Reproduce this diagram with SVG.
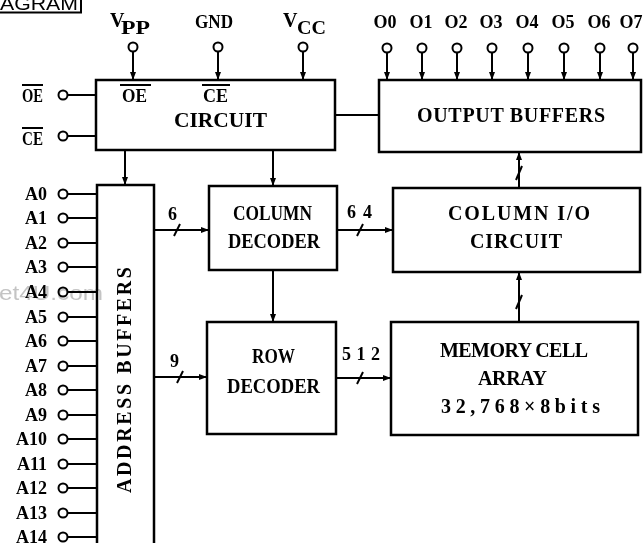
<svg xmlns="http://www.w3.org/2000/svg" width="643" height="543" viewBox="0 0 643 543">
<style>
.box{fill:#fff;stroke:#000;stroke-width:2.5}
.ln{fill:none;stroke:#000;stroke-width:2}
.pin{fill:#fff;stroke:#000;stroke-width:2}
.t{font-family:"Liberation Serif","DejaVu Serif",serif;font-weight:bold;font-size:20px;fill:#000}
.s{font-family:"Liberation Serif","DejaVu Serif",serif;font-weight:bold;font-size:18px;fill:#000}
.a{font-family:"Liberation Serif","DejaVu Serif",serif;font-weight:bold;font-size:18px;fill:#000;text-anchor:end}
</style>
<defs>
<marker id="ah" markerUnits="userSpaceOnUse" markerWidth="8" markerHeight="8" viewBox="0 0 8 8" refX="8" refY="4" orient="auto">
<path d="M0,1 L8,4 L0,7 Z" fill="#000"/>
</marker>
</defs>
<rect width="643" height="543" fill="#fff"/>

<g id="title">
<text x="0" y="10" font-family="Liberation Sans,Arial,sans-serif" font-size="19" textLength="78" lengthAdjust="spacingAndGlyphs">AGRAM</text>
<path class="ln" d="M0,12.5 H81 V0" stroke-width="1.5"/>
</g>

<g id="connectors">
<path class="ln" d="M133,52 V80" marker-end="url(#ah)"/>
<path class="ln" d="M218,52 V80" marker-end="url(#ah)"/>
<path class="ln" d="M303,52 V80" marker-end="url(#ah)"/>
<path class="ln" d="M387,53 V80" marker-end="url(#ah)"/>
<path class="ln" d="M422,53 V80" marker-end="url(#ah)"/>
<path class="ln" d="M457,53 V80" marker-end="url(#ah)"/>
<path class="ln" d="M492,53 V80" marker-end="url(#ah)"/>
<path class="ln" d="M528,53 V80" marker-end="url(#ah)"/>
<path class="ln" d="M564,53 V80" marker-end="url(#ah)"/>
<path class="ln" d="M600,53 V80" marker-end="url(#ah)"/>
<path class="ln" d="M633,53 V80" marker-end="url(#ah)"/>
<path class="ln" d="M68,95 H96"/>
<path class="ln" d="M68,136 H96"/>
<path class="ln" d="M335,115 H379"/>
<path class="ln" d="M125,150 V185" marker-end="url(#ah)"/>
<path class="ln" d="M273,150 V186" marker-end="url(#ah)"/>
<path class="ln" d="M273,270 V322" marker-end="url(#ah)"/>
<path class="ln" d="M154,230 H209" marker-end="url(#ah)"/>
<path class="ln" d="M174,236 L180,224"/>
<path class="ln" d="M154,377 H207" marker-end="url(#ah)"/>
<path class="ln" d="M177,383 L183,371"/>
<path class="ln" d="M337,230 H393" marker-end="url(#ah)"/>
<path class="ln" d="M357,236 L363,224"/>
<path class="ln" d="M336,378 H391" marker-end="url(#ah)"/>
<path class="ln" d="M357,384 L363,372"/>
<path class="ln" d="M519,188 V152" marker-end="url(#ah)"/>
<path class="ln" d="M516,180 L522,166"/>
<path class="ln" d="M519,322 V272" marker-end="url(#ah)"/>
<path class="ln" d="M516,309 L522,295"/>
<path class="ln" d="M68,194 H97 M68,218 H97 M68,243 H97 M68,267 H97 M68,292 H97 M68,317 H97 M68,341 H97 M68,366 H97 M68,390 H97 M68,415 H97 M68,439 H97 M68,464 H97 M68,488 H97 M68,513 H97 M68,537 H97"/>
</g>

<g id="power-pins">
<text x="110" y="27" class="t">V</text><text x="121" y="34" class="s" textLength="29" lengthAdjust="spacingAndGlyphs">PP</text>
<text x="195" y="28" class="s" textLength="38" lengthAdjust="spacingAndGlyphs">GND</text>
<text x="283" y="27" class="t">V</text><text x="297" y="34" class="s" textLength="29" lengthAdjust="spacingAndGlyphs">CC</text>
<circle class="pin" cx="133" cy="47" r="4.5"/>
<circle class="pin" cx="218" cy="47" r="4.5"/>
<circle class="pin" cx="303" cy="47" r="4.5"/>
</g>

<g id="output-pins">
<g class="s" text-anchor="middle">
<text x="385" y="28">O0</text><text x="421" y="28">O1</text><text x="456" y="28">O2</text><text x="491" y="28">O3</text>
<text x="527" y="28">O4</text><text x="563" y="28">O5</text><text x="599" y="28">O6</text><text x="631" y="28">O7</text>
</g>
<circle class="pin" cx="387" cy="48" r="4.5"/>
<circle class="pin" cx="422" cy="48" r="4.5"/>
<circle class="pin" cx="457" cy="48" r="4.5"/>
<circle class="pin" cx="492" cy="48" r="4.5"/>
<circle class="pin" cx="528" cy="48" r="4.5"/>
<circle class="pin" cx="564" cy="48" r="4.5"/>
<circle class="pin" cx="600" cy="48" r="4.5"/>
<circle class="pin" cx="633" cy="48" r="4.5"/>
</g>

<g id="ctrl-pins">
<text x="22" y="102" class="s" textLength="21" lengthAdjust="spacingAndGlyphs">OE</text>
<path class="ln" d="M22,85 H43" stroke-width="1.5"/>
<text x="22" y="145" class="s" textLength="21" lengthAdjust="spacingAndGlyphs">CE</text>
<path class="ln" d="M22,128 H43" stroke-width="1.5"/>
<circle class="pin" cx="63" cy="95" r="4.5"/>
<circle class="pin" cx="63" cy="136" r="4.5"/>
</g>

<g id="circuit">
<rect class="box" x="96" y="80" width="239" height="70"/>
<text x="122" y="102" class="s" textLength="25" lengthAdjust="spacingAndGlyphs">OE</text>
<path class="ln" d="M120,85 H151" stroke-width="1.5"/>
<text x="203" y="102" class="s" textLength="25" lengthAdjust="spacingAndGlyphs">CE</text>
<path class="ln" d="M202,85 H230" stroke-width="1.5"/>
<text x="174" y="127" class="t" textLength="93" lengthAdjust="spacingAndGlyphs">CIRCUIT</text>
</g>

<g id="output-buffers">
<rect class="box" x="379" y="80" width="262" height="72"/>
<text x="417" y="122" class="t" textLength="188">OUTPUT BUFFERS</text>
</g>

<g id="address-buffers">
<rect class="box" x="97" y="185" width="57" height="380"/>
<text transform="translate(131,493) rotate(-90)" class="t" textLength="226">ADDRESS BUFFERS</text>
</g>

<g id="address-pins">
<g class="a">
<text x="47" y="200">A0</text><text x="47" y="224">A1</text><text x="47" y="249">A2</text><text x="47" y="273">A3</text>
<text x="47" y="298">A4</text><text x="47" y="323">A5</text><text x="47" y="347">A6</text><text x="47" y="372">A7</text>
<text x="47" y="396">A8</text><text x="47" y="421">A9</text><text x="47" y="445">A10</text><text x="47" y="470">A11</text>
<text x="47" y="494">A12</text><text x="47" y="519">A13</text><text x="47" y="543">A14</text>
</g>
<g class="pin">
<circle cx="63" cy="194" r="4.5"/><circle cx="63" cy="218" r="4.5"/><circle cx="63" cy="243" r="4.5"/><circle cx="63" cy="267" r="4.5"/>
<circle cx="63" cy="292" r="4.5"/><circle cx="63" cy="317" r="4.5"/><circle cx="63" cy="341" r="4.5"/><circle cx="63" cy="366" r="4.5"/>
<circle cx="63" cy="390" r="4.5"/><circle cx="63" cy="415" r="4.5"/><circle cx="63" cy="439" r="4.5"/><circle cx="63" cy="464" r="4.5"/>
<circle cx="63" cy="488" r="4.5"/><circle cx="63" cy="513" r="4.5"/><circle cx="63" cy="537" r="4.5"/>
</g>
</g>

<g id="column-decoder">
<rect class="box" x="209" y="186" width="128" height="84"/>
<text x="233" y="220" class="t" textLength="79" lengthAdjust="spacingAndGlyphs">COLUMN</text>
<text x="228" y="248" class="t" textLength="92" lengthAdjust="spacingAndGlyphs">DECODER</text>
</g>

<g id="row-decoder">
<rect class="box" x="207" y="322" width="129" height="112"/>
<text x="252" y="363" class="t" textLength="43" lengthAdjust="spacingAndGlyphs">ROW</text>
<text x="227" y="393" class="t" textLength="93" lengthAdjust="spacingAndGlyphs">DECODER</text>
</g>

<g id="column-io">
<rect class="box" x="393" y="188" width="247" height="84"/>
<text x="448" y="220" class="t" textLength="142">COLUMN I/O</text>
<text x="470" y="248" class="t" textLength="92">CIRCUIT</text>
</g>

<g id="memory-array">
<rect class="box" x="391" y="322" width="247" height="113"/>
<text x="440" y="357" class="t" textLength="148">MEMORY CELL</text>
<text x="478" y="385" class="t" textLength="69">ARRAY</text>
<text x="441" y="413" class="t" textLength="159">32,768×8bits</text>
</g>

<g id="bus-labels">
<text x="168" y="220" class="s">6</text>
<text x="170" y="367" class="s">9</text>
<text x="347" y="218" class="s" textLength="25">64</text>
<text x="342" y="360" class="s" textLength="38">512</text>
</g>

<text x="-1" y="300" font-family="Liberation Sans,Arial,sans-serif" font-size="20" fill="#c4c4c4" style="mix-blend-mode:multiply" textLength="104" lengthAdjust="spacingAndGlyphs">et4U.com</text>
</svg>
